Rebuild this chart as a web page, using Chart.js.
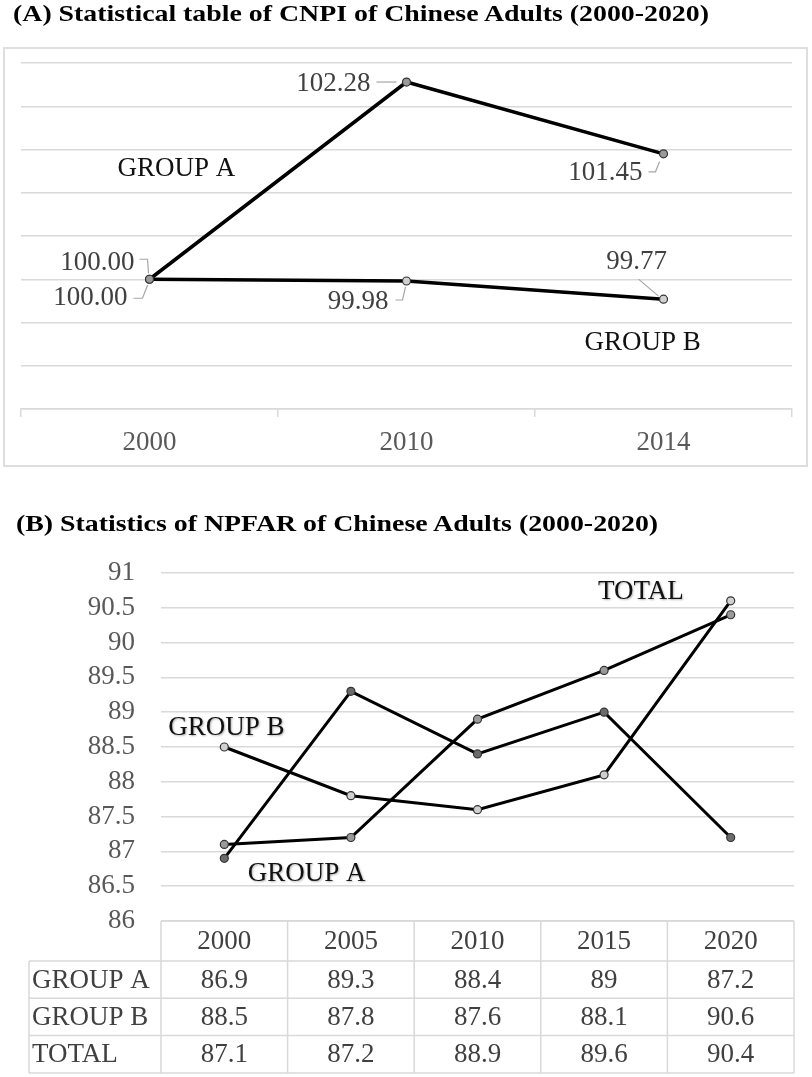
<!DOCTYPE html>
<html><head><meta charset="utf-8">
<script src="https://cdn.jsdelivr.net/npm/chart.js@4.4.1/dist/chart.umd.min.js"></script>
<style>
html,body{margin:0;padding:0;background:#fff;}
body{width:812px;height:1077px;position:relative;overflow:hidden;}
.title{position:absolute;left:13px;font:bold 24px "Liberation Serif","Times New Roman",serif;line-height:24px;white-space:nowrap;transform:scaleX(1.16);transform-origin:0 0;color:#000;z-index:2;}
#boxA{position:absolute;left:3px;top:47px;width:801px;height:416px;border:2px solid #dedede;}
canvas{position:absolute;left:0;}
</style></head><body>
<div id="boxA"></div>
<canvas id="chartA" width="812" height="480" style="top:0"></canvas>
<canvas id="chartB" width="812" height="587" style="top:490px"></canvas>
<div class="title" style="top:1px">(A) Statistical table of CNPI of Chinese Adults (2000-2020)</div>
<div class="title" style="top:511px;left:16px">(B) Statistics of NPFAR of Chinese Adults (2000-2020)</div>
<script>
// ---------- data ----------
const categoriesA = ['2000', '2010', '2014'];
const groupAValuesA = [100.00, 102.28, 101.45];
const groupBValuesA = [100.00, 99.98, 99.77];
const seriesNamesA = ['GROUP A', 'GROUP B'];

const categoriesB = ['2000', '2005', '2010', '2015', '2020'];
const groupAValuesB = [86.9, 89.3, 88.4, 89, 87.2];
const groupBValuesB = [88.5, 87.8, 87.6, 88.1, 90.6];
const totalValuesB = [87.1, 87.2, 88.9, 89.6, 90.4];
const seriesNamesB = ['GROUP A', 'GROUP B', 'TOTAL'];

// ---------- styles ----------
const FONT = '"Liberation Serif", "Times New Roman", serif';
const GRID = '#d9d9d9';
const valueLabelStyleA = [
  [ {dx:-15, dy:-16, align:'right', lead:[[-10,-20],[-2,-20],[-1,-6]]},
    {dx:-36, dy:2, align:'right', lead:[[-30,0],[-10,0]]},
    {dx:-21, dy:19, align:'right', lead:[[-15,18],[-8,18],[-4,8]]} ],
  [ {dx:-22, dy:19, align:'right', lead:[[-16,19],[-7,19],[-2,6]]},
    {dx:-18, dy:21, align:'right', lead:[[-11,19],[-4,19],[-1,6]]},
    {dx:-27, dy:-37, align:'center', lead:[[-25,-20],[-5,-3]]} ]
];
const seriesLabelAnchorA = [{x:0.105, y:101.28}, {x:1.919, y:99.26}];
const seriesLabelAnchorB = [{x:0.65, y:86.68}, {x:0.016, y:88.77}, {x:3.29, y:90.73}];

function drawSeriesNames(chart, names, anchors, shadow) {
  const ctx = chart.ctx, xs = chart.scales.x, ys = chart.scales.y;
  ctx.save();
  ctx.font = '27px ' + FONT;
  ctx.fillStyle = '#111';
  ctx.textAlign = 'center';
  ctx.textBaseline = 'middle';
  if (shadow) { ctx.shadowColor = 'rgba(0,0,0,0.3)'; ctx.shadowBlur = 2; ctx.shadowOffsetX = 1; ctx.shadowOffsetY = 1; }
  names.forEach((n, i) => {
    ctx.fillText(n, xs.getPixelForValue(anchors[i].x), ys.getPixelForValue(anchors[i].y));
  });
  ctx.restore();
}

const labelsPluginA = {
  id: 'labelsA',
  beforeDatasetsDraw(chart) {
    const ctx = chart.ctx;
    ctx.save();
    ctx.strokeStyle = '#a6a6a6';
    ctx.lineWidth = 1.2;
    chart.data.datasets.forEach((ds, di) => {
      chart.getDatasetMeta(di).data.forEach((pt, i) => {
        const st = valueLabelStyleA[di][i];
        ctx.beginPath();
        st.lead.forEach(([lx, ly], k) => k ? ctx.lineTo(pt.x + lx, pt.y + ly) : ctx.moveTo(pt.x + lx, pt.y + ly));
        ctx.stroke();
      });
    });
    ctx.restore();
  },
  afterDatasetsDraw(chart) {
    const ctx = chart.ctx;
    ctx.save();
    ctx.font = '27px ' + FONT;
    ctx.fillStyle = '#404040';
    ctx.textBaseline = 'middle';
    chart.data.datasets.forEach((ds, di) => {
      chart.getDatasetMeta(di).data.forEach((pt, i) => {
        const st = valueLabelStyleA[di][i];
        ctx.textAlign = st.align;
        ctx.fillText(ds.data[i].toFixed(2), pt.x + st.dx, pt.y + st.dy);
      });
    });
    ctx.restore();
    drawSeriesNames(chart, seriesNamesA, seriesLabelAnchorA, false);
  }
};

const tablePluginB = {
  id: 'tableB',
  afterDraw(chart) {
    const ctx = chart.ctx, xs = chart.scales.x, area = chart.chartArea;
    const half = (xs.getPixelForValue(1) - xs.getPixelForValue(0)) / 2;
    const left = area.left, right = area.right, top = area.bottom;
    const rowLeft = 29, headerH = 40, rowH = 37.3;
    const rows = [[seriesNamesB[0], groupAValuesB], [seriesNamesB[1], groupBValuesB], [seriesNamesB[2], totalValuesB]];
    const bottom = top + headerH + rowH * rows.length;
    ctx.save();
    ctx.strokeStyle = GRID;
    ctx.lineWidth = 1.5;
    ctx.beginPath();
    ctx.moveTo(left, top); ctx.lineTo(right, top);
    for (let r = 0; r <= rows.length; r++) {
      const y = top + headerH + rowH * r;
      ctx.moveTo(rowLeft, y); ctx.lineTo(right, y);
    }
    ctx.moveTo(rowLeft, top + headerH); ctx.lineTo(rowLeft, bottom);
    ctx.moveTo(left, top); ctx.lineTo(left, bottom);
    categoriesB.forEach((c, i) => {
      const x = xs.getPixelForValue(i) + half;
      ctx.moveTo(x, top); ctx.lineTo(x, bottom);
    });
    ctx.stroke();
    ctx.font = '27px ' + FONT;
    ctx.fillStyle = '#404040';
    ctx.textBaseline = 'middle';
    ctx.textAlign = 'center';
    categoriesB.forEach((c, i) => ctx.fillText(c, xs.getPixelForValue(i), top + headerH / 2 + 1));
    rows.forEach(([name, vals], r) => {
      const y = top + headerH + rowH * (r + 0.5) + 1;
      ctx.textAlign = 'left';
      ctx.fillText(name, rowLeft + 3, y);
      ctx.textAlign = 'center';
      vals.forEach((v, i) => ctx.fillText(String(v), xs.getPixelForValue(i), y));
    });
    ctx.restore();
  },
  afterDatasetsDraw(chart) {
    drawSeriesNames(chart, seriesNamesB, seriesLabelAnchorB, true);
  }
};

function lineDs(label, data, pointColor, width) {
  return {
    label, data,
    borderColor: '#000', borderWidth: width, tension: 0,
    pointRadius: 4, pointBorderWidth: 1.2, pointBorderColor: '#333',
    pointBackgroundColor: pointColor, fill: false
  };
}

new Chart(document.getElementById('chartA'), {
  type: 'line',
  data: {
    labels: categoriesA,
    datasets: [
      lineDs(seriesNamesA[0], groupAValuesA, '#9a9a9a', 3.5),
      lineDs(seriesNamesA[1], groupBValuesA, '#d0d0d0', 3.5)
    ]
  },
  options: {
    responsive: false, animation: false,
    layout: {padding: {left: 21, right: 20, top: 63, bottom: 0}},
    plugins: {legend: {display: false}, tooltip: {enabled: false}, title: {display: false}},
    scales: {
      x: {
        offset: true,
        grid: {display: true, drawOnChartArea: false, drawTicks: true, tickLength: 8, color: GRID, lineWidth: 1.5, offset: true},
        border: {display: true, color: GRID, width: 1.5},
        ticks: {font: {family: FONT, size: 27}, color: '#595959', padding: 10, maxRotation: 0},
        afterFit(axis) { axis.height = 71; }
      },
      y: {
        min: 98.5, max: 102.5,
        ticks: {stepSize: 0.5, display: false, autoSkip: false},
        grid: {color: GRID, lineWidth: 1.5, drawTicks: false},
        border: {display: false},
        afterFit(axis) { axis.width = 0; }
      }
    }
  },
  plugins: [labelsPluginA]
});

new Chart(document.getElementById('chartB'), {
  type: 'line',
  data: {
    labels: categoriesB,
    datasets: [
      lineDs(seriesNamesB[0], groupAValuesB, '#6b6b6b', 3),
      lineDs(seriesNamesB[1], groupBValuesB, '#d0d0d0', 3),
      lineDs(seriesNamesB[2], totalValuesB, '#9a9a9a', 3)
    ]
  },
  options: {
    responsive: false, animation: false,
    layout: {padding: {left: 0, right: 18, top: 83, bottom: 0}},
    plugins: {legend: {display: false}, tooltip: {enabled: false}, title: {display: false}},
    scales: {
      x: {
        offset: true,
        grid: {display: false},
        border: {display: false},
        ticks: {display: false},
        afterFit(axis) { axis.height = 156; }
      },
      y: {
        min: 86, max: 91,
        ticks: {stepSize: 0.5, autoSkip: false, font: {family: FONT, size: 27}, color: '#595959', padding: 26,
                callback: (v) => String(v)},
        grid: {color: GRID, lineWidth: 1.5, drawTicks: false},
        border: {display: false},
        afterFit(axis) { axis.width = 161; }
      }
    }
  },
  plugins: [tablePluginB]
});
</script>
</body></html>
